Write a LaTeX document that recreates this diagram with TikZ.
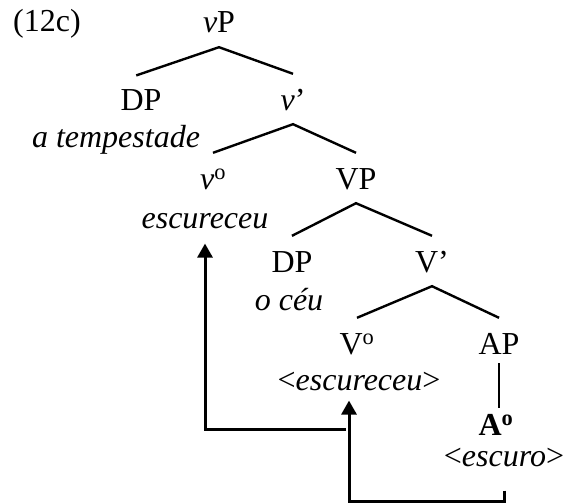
\documentclass[tikz,border=0pt]{standalone}
\usepackage{fontspec}
\setmainfont{Liberation Serif}
\usetikzlibrary{arrows.meta}

\begin{document}
\begin{tikzpicture}[x=1pt, y=-1pt,
  every node/.style={font=\fontsize{32}{38}\selectfont, inner sep=0pt},
  cat/.style={anchor=base, text height=36pt, text depth=14pt},
  word/.style={anchor=base},
  branch/.style={line width=2.4pt},
  move/.style={line width=3pt, -{Triangle[length=14pt,width=15pt]}}]
\useasboundingbox (0,0) rectangle (569,503);

% Exemplo
\node[anchor=base west] (ex) at (13,31) {(12c)};

% Árvore
\node[cat] (vP) at (219,33) {\textit{v}P};
\node[cat] (DP1) at (141,110) {DP};
\node[cat] (vbar) at (293,110) {\textit{v}’};
\node[word] (tempestade) at (116,147) {\textit{a tempestade}};
\node[cat] (v0) at (213,189) {\textit{v}\textsuperscript{o}};
\node[cat] (VP) at (356,189) {VP};
\node[word] (escureceu) at (205,228) {\textit{escureceu}};
\node[cat] (DP2) at (292,272) {DP};
\node[cat] (Vbar) at (432,272) {V’};
\node[word] (ceu) at (289,310) {\textit{o céu}};
\node[cat] (V0) at (357,354) {V\textsuperscript{o}};
\node[cat] (AP) at (499,354) {AP};
\node[word] (Vtraco) at (359,390) {<\textit{escureceu}>};
\node[word] (A0) at (496,435) {\textbf{A\textsuperscript{o}}};
\node[word] (escuro) at (504,466) {<\textit{escuro}>};

% Ramos
\draw[branch, shorten <=-5pt] (DP1.north) -- (vP.south) -- (vbar.north);
\draw[branch] (v0.north) -- (vbar.south) -- (VP.north);
\draw[branch] (DP2.north) -- (VP.south) -- (Vbar.north);
\draw[branch] (V0.north) -- (Vbar.south) -- (AP.north);
\draw[branch, shorten <=-5pt, shorten >=6pt] (AP.south) -- (AP.south |- A0.north);

% Movimentos
\coordinate (saida) at (346,429);
\draw[move, shorten >=15pt] (saida) -| (escureceu.south);
\coordinate (fundo) at (349,501);
\draw[move, shorten <=24pt, shorten >=10pt] (escuro.south) |- (fundo) -- (fundo |- Vtraco.south);
\end{tikzpicture}
\end{document}
